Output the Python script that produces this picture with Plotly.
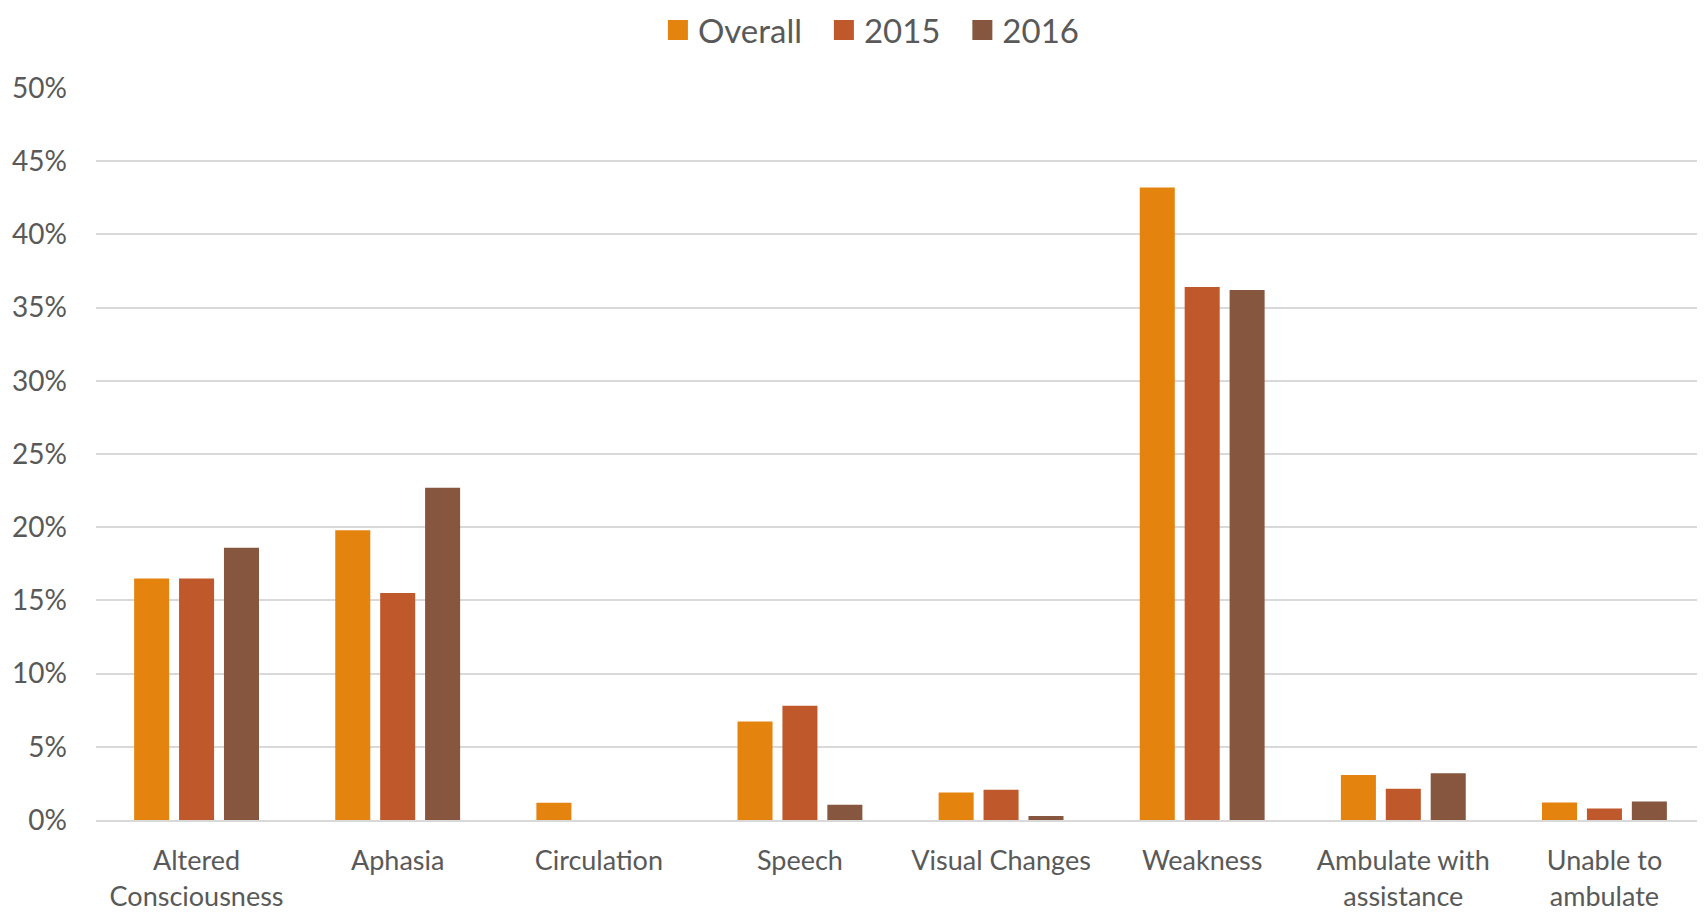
import plotly.graph_objects as go

categories = ["Altered<br>Consciousness", "Aphasia", "Circulation", "Speech",
              "Visual Changes", "Weakness", "Ambulate with<br>assistance", "Unable to<br>ambulate"]
overall = [0.165, 0.198, 0.0117, 0.0672, 0.0188, 0.432, 0.0307, 0.0119]
y2015 = [0.165, 0.155, 0.0, 0.078, 0.0206, 0.364, 0.0213, 0.0078]
y2016 = [0.186, 0.227, 0.0, 0.0105, 0.0027, 0.362, 0.0319, 0.0126]
series_names = ["Overall", "2015", "2016"]
colors = ["#E5830F", "#BF592C", "#86563F"]
y_ticks = [0, 0.05, 0.10, 0.15, 0.20, 0.25, 0.30, 0.35, 0.40, 0.45, 0.50]

fig = go.Figure()
for name, vals, c in zip(series_names, [overall, y2015, y2016], colors):
    fig.add_trace(go.Bar(x=categories, y=vals, name=name, marker_color=c,
                         marker_line_width=0, showlegend=False))
# legend entries with larger square swatches
pad = "\u00a0\u00a0"
legend_labels = [series_names[0] + pad, series_names[1] + pad, series_names[2]]
for name, c in zip(legend_labels, colors):
    fig.add_trace(go.Scatter(x=[None], y=[None], mode="markers", name=name,
                             marker=dict(symbol="square", size=16, color=c,
                                         line=dict(color=c, width=4))))

font_family = "Lato, Open Sans, sans-serif"
fig.update_layout(
    width=1697, height=908,
    margin=dict(l=88, r=0, t=80, b=96, autoexpand=False),
    plot_bgcolor="white", paper_bgcolor="white",
    barmode="group", bargap=0.33, bargroupgap=0.22,
    font=dict(family=font_family, color="#595959", size=26),
    legend=dict(orientation="h", xref="container", yref="container",
                x=0.5085, y=0.9758, xanchor="center", yanchor="middle",
                font=dict(size=33, color="#595959"), traceorder="normal",
                itemwidth=30, tracegroupgap=0),
    showlegend=True,
)
fig.update_yaxes(range=[0, 0.5], tickvals=y_ticks, tickformat=".0%",
                 showgrid=True, gridcolor="#D9D9D9", gridwidth=1.5,
                 zeroline=False, showline=False, ticks="", automargin=False,
                 tickfont=dict(size=28, color="#595959"), ticklabelstandoff=28)
fig.update_xaxes(showline=True, linecolor="#D9D9D9", linewidth=2,
                 ticks="", automargin=False,
                 tickfont=dict(size=27, color="#595959"),
                 ticklabelstandoff=16)

fig.write_html("out.html")
